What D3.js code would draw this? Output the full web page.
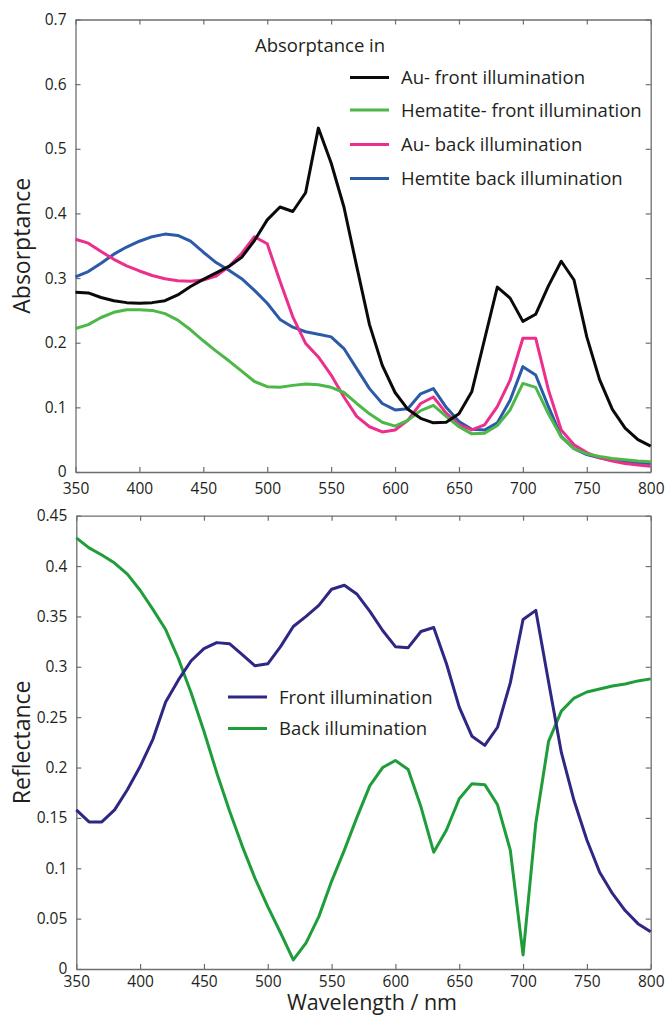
<!DOCTYPE html>
<html>
<head>
<meta charset="utf-8">
<script src="https://cdn.jsdelivr.net/npm/d3@7"></script>
<style>
  body { margin: 0; background: #fff; }
  svg text { font-family: "Open Sans", "Noto Sans", sans-serif; fill: #231f20; }
</style>
</head>
<body>
<div id="chart"></div>
<script>
// wavelength samples (nm)
const wavelengths = [350, 360, 370, 380, 390, 400, 410, 420, 430, 440, 450, 460, 470, 480, 490,
  500, 510, 520, 530, 540, 550, 560, 570, 580, 590, 600, 610, 620, 630, 640, 650, 660, 670,
  680, 690, 700, 710, 720, 730, 740, 750, 760, 770, 780, 790, 800];

// top panel: absorptance
const auFront = [0.278, 0.277, 0.270, 0.265, 0.262, 0.261, 0.262, 0.265, 0.274, 0.287, 0.298,
  0.308, 0.318, 0.332, 0.358, 0.390, 0.410, 0.403, 0.432, 0.532, 0.478, 0.410, 0.318, 0.228,
  0.165, 0.123, 0.097, 0.083, 0.076, 0.077, 0.090, 0.124, 0.205, 0.286, 0.269, 0.233, 0.244,
  0.288, 0.326, 0.297, 0.209, 0.143, 0.097, 0.068, 0.050, 0.040];
const hemFront = [0.222, 0.228, 0.239, 0.247, 0.251, 0.251, 0.250, 0.245, 0.235, 0.220, 0.203,
  0.187, 0.172, 0.156, 0.140, 0.132, 0.131, 0.134, 0.136, 0.135, 0.131, 0.123, 0.106, 0.090,
  0.077, 0.071, 0.080, 0.095, 0.103, 0.086, 0.070, 0.059, 0.060, 0.072, 0.096, 0.137, 0.131,
  0.090, 0.054, 0.036, 0.028, 0.024, 0.021, 0.019, 0.017, 0.016];
const auBack = [0.360, 0.354, 0.341, 0.329, 0.319, 0.311, 0.304, 0.299, 0.296, 0.295, 0.297,
  0.303, 0.318, 0.338, 0.364, 0.353, 0.295, 0.240, 0.199, 0.178, 0.150, 0.116, 0.086, 0.070,
  0.062, 0.065, 0.080, 0.106, 0.116, 0.091, 0.073, 0.065, 0.073, 0.101, 0.142, 0.207, 0.207,
  0.127, 0.065, 0.042, 0.030, 0.022, 0.017, 0.013, 0.011, 0.009];
const hemBack = [0.302, 0.310, 0.323, 0.337, 0.348, 0.357, 0.364, 0.368, 0.366, 0.357, 0.340,
  0.324, 0.312, 0.299, 0.281, 0.261, 0.236, 0.224, 0.217, 0.213, 0.209, 0.191, 0.160, 0.129,
  0.106, 0.096, 0.098, 0.121, 0.129, 0.100, 0.078, 0.066, 0.065, 0.076, 0.111, 0.163, 0.150,
  0.101, 0.055, 0.036, 0.027, 0.022, 0.018, 0.016, 0.014, 0.013];

// bottom panel: reflectance
const reflFront = [0.158, 0.146, 0.146, 0.158, 0.178, 0.201, 0.228, 0.265, 0.287, 0.306, 0.318,
  0.324, 0.323, 0.312, 0.301, 0.303, 0.320, 0.340, 0.350, 0.361, 0.377, 0.381, 0.372, 0.355,
  0.336, 0.320, 0.319, 0.335, 0.339, 0.303, 0.260, 0.231, 0.222, 0.240, 0.284, 0.347, 0.356,
  0.285, 0.215, 0.167, 0.128, 0.096, 0.075, 0.058, 0.045, 0.037];
const reflBack = [0.428, 0.418, 0.411, 0.403, 0.392, 0.376, 0.357, 0.337, 0.308, 0.274, 0.236,
  0.195, 0.157, 0.122, 0.090, 0.062, 0.036, 0.009, 0.026, 0.052, 0.087, 0.118, 0.151, 0.182,
  0.200, 0.207, 0.198, 0.161, 0.116, 0.138, 0.169, 0.184, 0.183, 0.163, 0.118, 0.014, 0.145,
  0.226, 0.256, 0.269, 0.275, 0.278, 0.281, 0.283, 0.286, 0.288];

const xTicks = [350, 400, 450, 500, 550, 600, 650, 700, 750, 800];
const topYTicks = [0, 0.1, 0.2, 0.3, 0.4, 0.5, 0.6, 0.7];
const botYTicks = [0, 0.05, 0.1, 0.15, 0.2, 0.25, 0.3, 0.35, 0.4, 0.45];

const topSeries = [
  { name: "Au- front illumination", values: auFront, color: "#0a0a0a" },
  { name: "Hematite- front illumination", values: hemFront, color: "#4db848" },
  { name: "Au- back illumination", values: auBack, color: "#ec2f8c" },
  { name: "Hemtite back illumination", values: hemBack, color: "#2b5ba8" },
];
const botSeries = [
  { name: "Front illumination", values: reflFront, color: "#2e2784" },
  { name: "Back illumination", values: reflBack, color: "#1f9d3b" },
];

const width = 667;
const height = 1016;

const svg = d3.select("#chart")
  .append("svg")
  .attr("width", width)
  .attr("height", height);

function drawPanel(conf) {
  const x = d3.scaleLinear().domain([350, 800]).range([conf.left, conf.right]);
  const y = d3.scaleLinear().domain(conf.yDomain).range([conf.bottom, conf.top]);
  const g = svg.append("g");

  const axisStyle = (sel) => {
    sel.select(".domain").attr("stroke", "#6d6e70").attr("stroke-width", 1.3);
    sel.selectAll(".tick line").attr("stroke", "#6d6e70").attr("stroke-width", 1.2);
    sel.selectAll(".tick text")
      .attr("font-family", '"Open Sans", sans-serif')
      .attr("font-size", 15.5)
      .attr("fill", "#231f20");
  };

  g.append("g")
    .attr("transform", `translate(0,${conf.bottom})`)
    .call(d3.axisBottom(x).tickValues(xTicks).tickSizeInner(-5).tickSizeOuter(0)
      .tickPadding(conf.xPad).tickFormat(d3.format("d")))
    .call(axisStyle);
  g.append("g")
    .attr("transform", `translate(0,${conf.top})`)
    .call(d3.axisTop(x).tickValues(xTicks).tickSizeInner(-5).tickSizeOuter(0).tickFormat(""))
    .call(axisStyle);
  g.append("g")
    .attr("transform", `translate(${conf.left},0)`)
    .call(d3.axisLeft(y).tickValues(conf.yTicks).tickSizeInner(-5).tickSizeOuter(0)
      .tickPadding(9).tickFormat((d) => (d === 0 ? "0" : d3.format("~g")(d))))
    .call(axisStyle);
  g.append("g")
    .attr("transform", `translate(${conf.right},0)`)
    .call(d3.axisRight(y).tickValues(conf.yTicks).tickSizeInner(-5).tickSizeOuter(0).tickFormat(""))
    .call(axisStyle);

  const line = d3.line()
    .x((d, i) => x(wavelengths[i]))
    .y((d) => y(d));

  // draw back to front so the first legend entry sits on top
  conf.series.slice().reverse().forEach((s) => {
    g.append("path")
      .datum(s.values)
      .attr("fill", "none")
      .attr("stroke", s.color)
      .attr("stroke-width", 3)
      .attr("stroke-linejoin", "round")
      .attr("d", line);
  });

  // y label
  g.append("text")
    .attr("transform", `translate(30,${(conf.top + conf.bottom) / 2}) rotate(-90)`)
    .attr("text-anchor", "middle")
    .attr("font-size", 23)
    .text(conf.yLabel);

  // legend
  const lg = g.append("g");
  if (conf.legendTitle) {
    lg.append("text")
      .attr("x", conf.legend.titleX)
      .attr("y", conf.legend.titleY)
      .attr("font-size", 18.5)
      .text(conf.legendTitle);
  }
  conf.series.forEach((s, i) => {
    const ly = conf.legend.rows[i];
    lg.append("line")
      .attr("x1", conf.legend.x1)
      .attr("x2", conf.legend.x2)
      .attr("y1", ly)
      .attr("y2", ly)
      .attr("stroke", s.color)
      .attr("stroke-width", 3);
    lg.append("text")
      .attr("x", conf.legend.tx)
      .attr("y", ly)
      .attr("dy", "0.36em")
      .attr("font-size", 18.5)
      .text(s.name);
  });
  return { x, y };
}

drawPanel({
  left: 75.5, right: 650.7, top: 19.5, bottom: 472,
  yDomain: [0, 0.7], yTicks: topYTicks, xPad: 11,
  series: topSeries,
  yLabel: "Absorptance",
  legendTitle: "Absorptance in",
  legend: { titleX: 255, titleY: 52, x1: 350, x2: 389, tx: 401, rows: [77.5, 110, 144.5, 178.5] },
});

drawPanel({
  left: 76.3, right: 650.7, top: 515.7, bottom: 969,
  yDomain: [0, 0.45], yTicks: botYTicks, xPad: 7,
  series: botSeries,
  yLabel: "Reflectance",
  legendTitle: null,
  legend: { x1: 228, x2: 267, tx: 279, rows: [697, 728.5] },
});

svg.append("text")
  .attr("x", 372)
  .attr("y", 1010)
  .attr("text-anchor", "middle")
  .attr("font-size", 21.5)
  .text("Wavelength / nm");
</script>
</body>
</html>
